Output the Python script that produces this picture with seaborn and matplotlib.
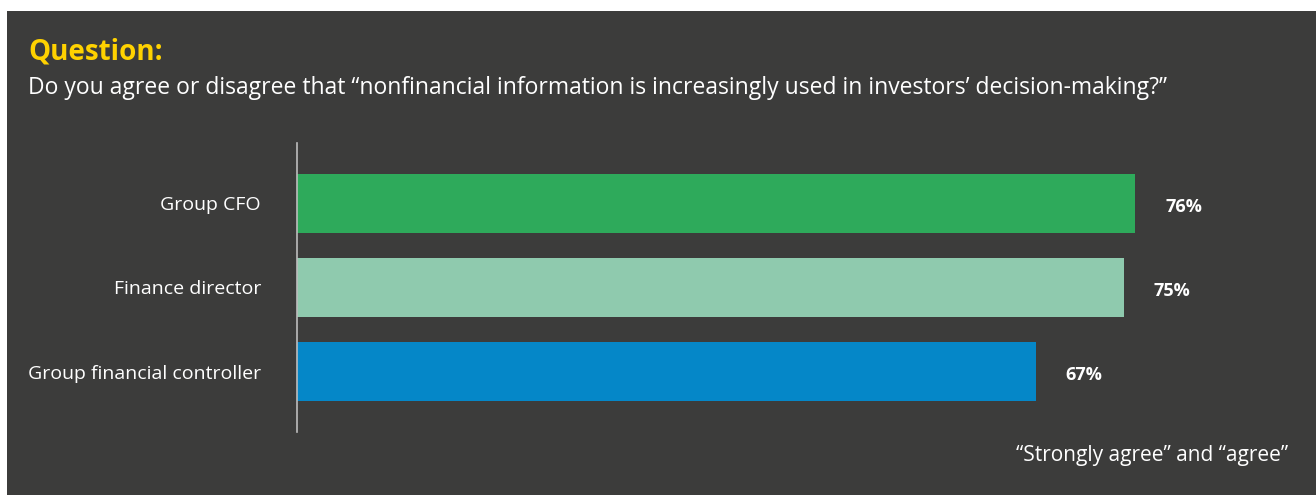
import matplotlib
matplotlib.use("Agg")
import matplotlib.pyplot as plt
import seaborn as sns
import pandas as pd

# data
roles = ["Group CFO", "Finance director", "Group financial controller"]
agree_pct = [76, 75, 67]
bar_colors = ["#2eaa5b", "#8fcaae", "#0587c8"]

title = "Question:"
subtitle = "Do you agree or disagree that \u201cnonfinancial information is increasingly used in investors\u2019 decision-making?\u201d"
footer = "\u201cStrongly agree\u201d and \u201cagree\u201d"

BG = "#3c3c3b"
W, H = 1316, 495

sns.set_style("white")
plt.rcParams["font.family"] = ["Open Sans", "DejaVu Sans"]

df = pd.DataFrame({"role": roles, "pct": agree_pct})

fig = plt.figure(figsize=(W / 100, H / 100), dpi=100, facecolor="white")
# dark panel with a thin white margin on top and left
panel = plt.Rectangle((7 / W, 0), 1, (H - 11) / H, transform=fig.transFigure,
                      facecolor=BG, edgecolor="none", zorder=-10)
fig.patches.append(panel)

ax_left, ax_right = 297 / W, 1300 / W
ax_top, ax_bot = 1 - 143 / H, 1 - 432 / H
ax = fig.add_axes([ax_left, ax_bot, ax_right - ax_left, ax_top - ax_bot])
ax.set_facecolor("none")
ax.set_zorder(5)

sns.barplot(data=df, y="role", x="pct", hue="role", palette=bar_colors,
            orient="h", width=0.70, legend=False, ax=ax, saturation=1, linewidth=0)

px_per_unit = (1135 - 297) / 76
ax.set_xlim(0, (1300 - 297) / px_per_unit)
ax.set_ylim(2.72, -0.72)

for i, v in enumerate(agree_pct):
    ax.text(v + 30 / px_per_unit, i + 0.04, f"{v}%", color="white", fontsize=13,
            fontweight="bold", va="center", ha="left")

ax.set_xlabel("")
ax.set_ylabel("")
ax.set_xticks([])
ax.tick_params(axis="y", length=0, pad=26, labelsize=14, labelcolor="white")
for s in ["top", "right", "bottom"]:
    ax.spines[s].set_visible(False)
ax.spines["left"].set_color("#bdbdbd")
ax.spines["left"].set_linewidth(1.2)

fig.text(28 / W, 1 - 52 / H, title, color="#ffd200", fontsize=20, fontweight="bold",
         va="center", ha="left")
fig.text(28 / W, 1 - 88 / H, subtitle, color="white", fontsize=16.5, va="center", ha="left")
fig.text(1288 / W, 1 - 455 / H, footer, color="white", fontsize=15, va="center", ha="right")

fig.savefig("out.png", dpi=100, facecolor=fig.get_facecolor())
